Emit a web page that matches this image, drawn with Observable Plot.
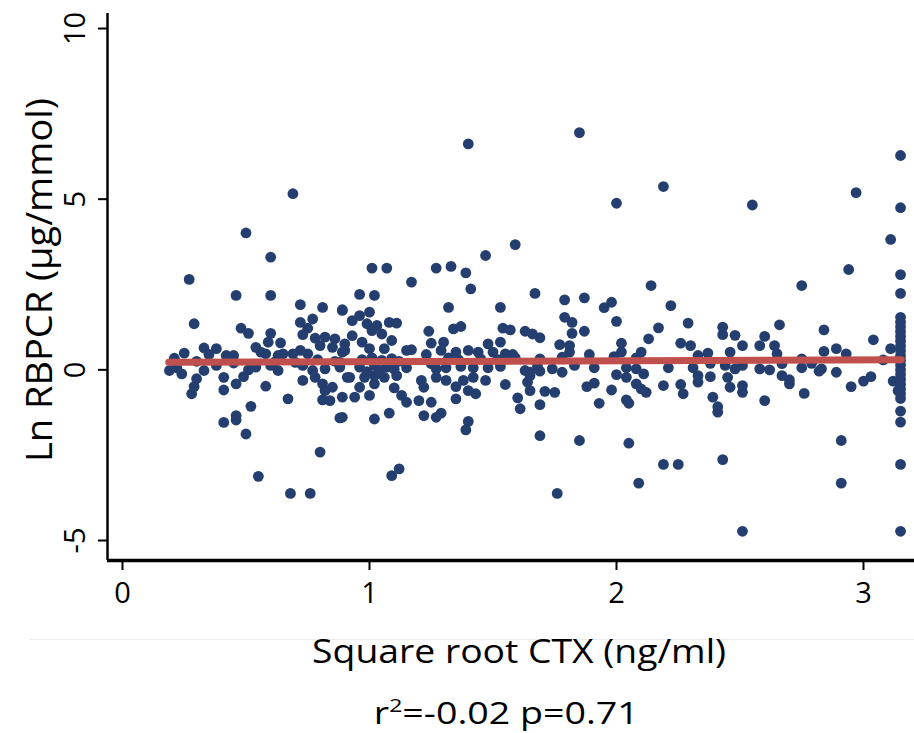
<!DOCTYPE html>
<html><head><meta charset="utf-8">
<script src="https://cdn.jsdelivr.net/npm/d3@7"></script>
<script src="https://cdn.jsdelivr.net/npm/@observablehq/plot@0.6"></script>
<style>
body{margin:0;background:#fff;}
#wrap{position:relative;width:914px;height:733px;font-family:"Open Sans",Lato,sans-serif;color:#000;overflow:hidden;}
#chart{position:absolute;left:0;top:0;}
#sep{position:absolute;left:30px;top:639px;width:884px;border-top:1px solid #ececec;}
.lab{position:absolute;white-space:nowrap;line-height:1;}
#xlabel{top:634px;font-size:33px;}
#caption{top:697px;font-size:31px;}
#caption sup{font-size:19px;vertical-align:0;position:relative;top:-12px;}
</style></head>
<body>
<div id="wrap">
  <div id="chart"></div>
  <div id="sep"></div>
  <div id="xlabel" class="lab"></div>
  <div id="caption" class="lab"></div>
</div>
<script>
// ---- data (x = square root CTX, y = Ln RBPCR) ----
const leftPts = [
 [0.46,2.18],[0.60,2.18],[0.72,1.91],[0.81,1.83],[0.89,1.74],[0.29,1.35],[0.72,1.39],[0.77,1.49],[0.48,1.22],[0.51,1.07],
 [0.60,1.07],[0.75,1.22],[0.73,1.03],[0.59,0.81],[0.64,0.79],[0.78,0.93],[0.82,0.96],[0.86,0.91],[0.33,0.64],[0.38,0.62],
 [0.25,0.49],[0.21,0.34],[0.35,0.45],[0.42,0.42],[0.45,0.42],[0.54,0.66],[0.56,0.52],[0.58,0.47],[0.63,0.42],[0.65,0.47],
 [0.69,0.47],[0.72,0.57],[0.75,0.47],[0.80,0.71],[0.85,0.66],[0.89,0.52],[0.19,-0.02],[0.24,-0.12],[0.22,0.06],[0.33,-0.02],
 [0.38,0.13],[0.41,-0.22],[0.30,-0.26],[0.29,-0.49],[0.28,-0.70],[0.41,-0.59],[0.46,-0.41],[0.49,-0.20],[0.51,0.00],[0.54,0.08],
 [0.58,-0.48],[0.60,0.13],[0.63,-0.02],[0.67,-0.85],[0.73,-0.31],[0.73,0.13],[0.77,-0.02],[0.78,-0.22],[0.82,0.03],[0.88,0.08],
 [0.91,-0.22],[0.81,-0.41],[0.82,-0.61],[0.85,-0.51],[0.81,-0.88],[0.84,-0.90],[0.52,-1.07],[0.41,-1.54],[0.46,-1.34],[0.46,-1.47],
 [0.50,-1.88],[0.88,-1.41],[0.80,-2.41],[0.30,0.25],[0.45,0.20],[0.62,0.25],[0.70,0.22],[0.79,0.30],[0.86,0.25]
];
const midPts = [
 [1.17,2.57],[1.41,2.37],[0.96,2.21],[1.02,2.18],[1.67,2.24],[1.32,1.83],[1.53,1.83],[0.89,1.76],[0.96,1.59],[1.00,1.69],
 [0.93,1.44],[0.99,1.35],[1.03,1.30],[1.08,1.39],[1.11,1.37],[1.01,1.15],[1.05,1.05],[0.93,1.00],[1.24,1.13],[1.34,1.20],
 [1.37,1.27],[1.54,1.22],[1.57,1.17],[1.63,1.13],[1.66,1.05],[1.09,0.86],[0.97,0.81],[0.90,0.76],[1.25,0.78],[1.30,0.81],
 [1.53,0.81],[1.00,0.62],[1.06,0.62],[1.15,0.57],[1.17,0.59],[1.23,0.45],[1.29,0.57],[1.35,0.52],[1.40,0.57],[1.44,0.52],
 [1.48,0.76],[1.50,0.52],[1.55,0.47],[1.58,0.45],[0.90,0.57],[0.88,0.22],[0.96,0.08],[1.02,0.13],[1.07,0.08],[1.15,0.06],
 [1.25,0.18],[1.27,0.03],[1.31,0.06],[1.37,0.10],[1.42,0.06],[1.48,0.06],[1.53,0.10],[1.63,-0.02],[1.68,0.10],[0.92,-0.22],
 [0.98,-0.22],[1.02,-0.17],[1.06,-0.22],[1.11,-0.17],[1.27,-0.22],[1.31,-0.31],[1.21,-0.31],[1.38,-0.31],[1.42,-0.22],[1.47,-0.31],
 [1.65,-0.17],[0.96,-0.51],[1.02,-0.41],[1.10,-0.53],[1.22,-0.51],[1.35,-0.49],[1.40,-0.61],[1.43,-0.70],[1.55,-0.43],[1.64,-0.36],
 [1.65,-0.61],[0.89,-0.80],[0.94,-0.80],[1.00,-0.75],[1.13,-0.75],[1.15,-0.95],[1.20,-0.90],[1.25,-0.95],[1.35,-0.85],[1.60,-0.82],
 [1.61,-1.14],[1.69,-1.02],[0.89,-1.39],[1.02,-1.44],[1.08,-1.27],[1.22,-1.34],[1.27,-1.39],[1.29,-1.27],[1.40,-1.51],[1.39,-1.76],
 [1.69,-1.93],[0.97,0.30],[1.01,0.35],[1.05,0.28],[1.09,0.33],[1.12,0.25],[0.99,-0.05],[1.04,-0.02],[1.10,0.02],[1.32,0.35],
 [1.36,0.30],[1.45,0.32],[1.52,0.30],[1.59,0.35]
];
const rightPts = [
 [2.14,2.47],[1.79,2.05],[1.87,2.11],[1.95,1.82],[1.98,1.98],[2.22,1.88],[1.79,1.54],[1.82,1.39],[2.00,1.42],[2.29,1.37],
 [2.17,1.23],[2.43,1.25],[1.82,1.07],[1.87,1.13],[1.69,0.94],[2.43,1.03],[2.13,0.91],[1.77,0.74],[1.81,0.71],[2.02,0.78],
 [2.26,0.78],[2.30,0.71],[1.81,0.52],[1.89,0.45],[1.99,0.39],[2.02,0.52],[2.10,0.52],[2.08,0.35],[2.33,0.42],[2.37,0.49],
 [2.46,0.52],[1.69,0.32],[1.78,0.37],[1.83,0.13],[1.65,-0.07],[1.69,-0.04],[1.74,0.03],[1.78,-0.07],[1.91,0.06],[2.00,-0.14],
 [2.04,0.06],[2.04,-0.22],[2.08,0.03],[2.11,-0.12],[2.21,0.06],[2.31,0.06],[2.33,-0.17],[2.38,0.19],[2.44,0.13],[2.38,-0.20],
 [2.45,-0.22],[1.71,-0.63],[1.75,-0.66],[1.88,-0.49],[1.91,-0.39],[1.98,-0.59],[2.08,-0.41],[2.10,-0.56],[2.12,-0.66],[2.19,-0.46],
 [2.26,-0.43],[2.27,-0.70],[2.33,-0.36],[2.46,-0.51],[1.93,-0.98],[2.04,-0.88],[2.05,-0.98],[2.39,-0.80],[2.41,-1.08],[2.41,-1.24],
 [1.85,-2.07],[2.05,-2.15],
 [2.75,2.47],[2.66,1.32],[2.84,1.17],[3.04,0.88],[2.48,1.01],[2.51,0.71],[2.58,0.71],[2.60,0.98],[2.64,0.71],[2.65,0.47],
 [2.84,0.54],[2.89,0.62],[2.93,0.47],[3.11,0.62],[2.48,0.03],[2.51,0.13],[2.58,0.03],[2.62,0.00],[2.67,0.18],[2.75,0.32],
 [2.75,0.06],[2.79,0.19],[2.83,0.03],[2.82,-0.04],[2.89,-0.07],[3.08,0.29],[2.51,-0.46],[2.51,-0.66],[2.67,-0.17],[2.70,-0.29],
 [2.70,-0.41],[2.76,-0.69],[2.95,-0.49],[3.00,-0.33],[3.03,-0.20],[3.12,-0.33],[3.14,-0.61],[2.60,-0.90],[2.91,-2.07]
];
const highPts = [
 [0.27,2.65],[0.50,4.01],[0.60,3.30],[0.69,5.16],[1.01,2.98],[1.07,2.98],[1.27,2.98],[1.33,3.03],[1.39,2.84],[1.47,3.35],
 [1.59,3.67],[1.40,6.62],[1.85,6.95],[2.19,5.37],[2.00,4.88],[2.55,4.83],[2.97,5.19],[3.11,3.82],[2.94,2.94]
];
const lowPts = [
 [0.55,-3.12],[0.68,-3.62],[0.76,-3.62],[1.12,-2.90],[1.09,-3.10],
 [1.76,-3.62],[2.09,-3.32],[2.19,-2.77],[2.25,-2.77],[2.43,-2.63],[2.51,-4.73],[2.91,-3.32]
];
const capX = 3.15;
const capY = [6.28,4.75,2.79,2.24,1.54,1.40,1.26,1.12,0.98,0.84,0.70,0.56,0.42,0.28,0.14,0.00,-0.14,-0.28,-0.42,-0.56,-0.70,-0.84,-1.21,-1.53,-2.77,-4.73];

const fitX = [0.187, 3.153];
const fitY = [0.22, 0.295];

const xTicks = [0, 1, 2, 3];
const yTicks = [-5, 0, 5, 10];
const xDomain = [-0.0607, 3.2065];
const yDomain = [-5.586, 10.44];
const xTitle = "Square root CTX (ng/ml)";
const yTitle = "Ln RBPCR (µg/mmol)";
const r2Text = "-0.02";
const pText = "0.71";

// ---- build ----
const points = [...leftPts, ...midPts, ...rightPts, ...highPts, ...lowPts, ...capY.map(y => [capX, y])]
  .map(([x, y]) => ({x, y}));
const fit = fitX.map((x, i) => ({x, y: fitY[i]}));

const chart = Plot.plot({
  width: 914, height: 640,
  marginTop: 13, marginLeft: 107, marginRight: 0, marginBottom: 80,
  x: {domain: xDomain, label: null},
  y: {domain: yDomain, label: null},
  style: {fontFamily: "'Open Sans', Lato, sans-serif", background: "white", color: "black", overflow: "visible"},
  marks: [
    Plot.axisX({ticks: xTicks, tickSize: 10, tickPadding: 12, fontSize: 29, strokeWidth: 2, label: null, tickFormat: d => String(d)}),
    Plot.axisY({ticks: yTicks, tickSize: 9, strokeWidth: 2, label: null, tickFormat: () => ""}),
    Plot.text(yTicks, {y: d => d, text: d => String(d), frameAnchor: "left", textAnchor: "middle", dx: -32, rotate: -90, fontSize: 29, fill: "black"}),
    Plot.ruleX([xDomain[0]], {stroke: "black", strokeWidth: 2.5}),
    Plot.ruleY([yDomain[0]], {stroke: "black", strokeWidth: 3.5}),
    Plot.dot(points, {x: "x", y: "y", r: 5.4, fill: "#243f6f"}),
    Plot.line(fit, {x: "x", y: "y", stroke: "#c0504d", strokeWidth: 7}),
    Plot.text([yTitle], {text: d => d, frameAnchor: "left", textAnchor: "middle", dx: -67, dy: -7, rotate: -90, fontSize: 36, fill: "black"})
  ]
});
document.getElementById("chart").appendChild(chart);
// stretch the y title to the reference length
d3.select(chart).selectAll("text").filter(function() { return this.textContent === yTitle; })
  .attr("textLength", 364).attr("lengthAdjust", "spacingAndGlyphs");

function placeLabel(el, centerX, targetWidth) {
  const w = el.getBoundingClientRect().width;
  el.style.left = (centerX - w / 2) + "px";
  el.style.transformOrigin = "50% 50%";
  el.style.transform = "scaleX(" + (targetWidth / w) + ")";
}
const xl = document.getElementById("xlabel");
xl.textContent = xTitle;
placeLabel(xl, 519, 414);
const cap = document.getElementById("caption");
cap.innerHTML = "r<sup>2</sup>=" + r2Text + " p=" + pText;
placeLabel(cap, 506, 265);
</script>
</body></html>
